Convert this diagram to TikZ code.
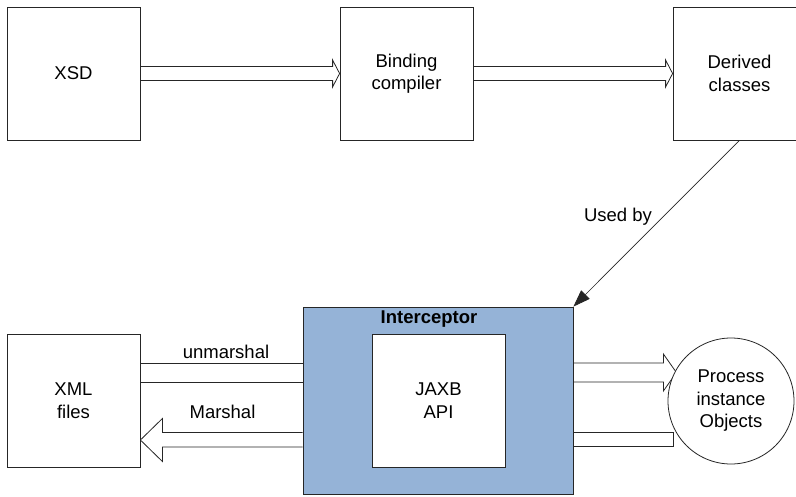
\documentclass[tikz,border=0pt]{standalone}
\usepackage{fontspec}
\setmainfont{Liberation Sans}
\usetikzlibrary{calc,arrows.meta}
\definecolor{intblue}{HTML}{95B3D7}
\definecolor{ln}{HTML}{262626}
\pgfdeclarelayer{bg}
\pgfsetlayers{bg,main}
\begin{document}
\begin{tikzpicture}[x=1pt,y=-1pt,
  font=\fontsize{18.5}{22.5}\selectfont,
  box/.style={draw=ln, line width=0.8pt, fill=white, minimum width=133pt, minimum height=133pt, inner sep=0pt, align=center},
  hollow/.style={draw=ln, line width=0.8pt, line join=miter},
  lbl/.style={inner sep=0pt}
  ]
\useasboundingbox (0,0) rectangle (796,496);
\clip (0,0) rectangle (796,496);
% top row
\node[box] (xsd) at (73.5,73.5) {XSD};
\node[box] (bc) at (406.5,73.5) {Binding\\compiler};
\node[box] (dc) at (739.5,73.5) {Derived\\classes};
% bottom row
\node[box] (xml) at (73.5,400.5) {XML\\files};
\node[draw=ln, line width=0.8pt, fill=intblue, minimum width=270pt, minimum height=187pt, inner sep=0pt] (ic) at (438,400.5) {};
\node[lbl, font=\fontsize{18.5}{22.5}\selectfont\bfseries] (iclabel) at (429,319) {Interceptor};
\node[box] (jaxb) at (438.5,400.5) {JAXB\\API};
\node[draw=ln, line width=0.8pt, circle, fill=white, minimum size=126pt, inner sep=0pt, align=center] (pio) at (731,401) {Process\\instance\\Objects};
% hollow arrows (under the shapes)
\begin{pgfonlayer}{bg}
\draw[hollow] ($(xsd.east)+(0,-7)$) -- ($(bc.west)+(-7,-7)$) -- ($(bc.west)+(-7,-13.5)$) -- (bc.west) -- ($(bc.west)+(-7,13.5)$) -- ($(bc.west)+(-7,7)$) -- ($(xsd.east)+(0,7)$);
\draw[hollow] ($(bc.east)+(0,-7)$) -- ($(dc.west)+(-7,-7)$) -- ($(dc.west)+(-7,-13.5)$) -- (dc.west) -- ($(dc.west)+(-7,13.5)$) -- ($(dc.west)+(-7,7)$) -- ($(bc.east)+(0,7)$);
% unmarshal
\draw[hollow] ($(xml.east)+(0,-37.5)$) -- ($(ic.west)+(0,-37.5)$);
\draw[hollow] ($(xml.east)+(0,-18.5)$) -- ($(ic.west)+(0,-18.5)$);
% Marshal
\draw[hollow] ($(ic.west)+(0,32)$) -- ($(xml.east)+(22,32)$) -- ($(xml.east)+(22,18)$) -- ($(xml.east)+(0,39.5)$) -- ($(xml.east)+(22,61)$) -- ($(xml.east)+(22,46.5)$) -- ($(ic.west)+(0,46.5)$);
% to process objects
\draw[hollow] ($(ic.east)+(0,-37.5)$) -- ($(ic.east)+(90,-37.5)$) -- ($(ic.east)+(90,-46.5)$) -- ($(ic.east)+(103,-28)$) -- ($(ic.east)+(90,-9.5)$) -- ($(ic.east)+(90,-18.5)$) -- ($(ic.east)+(0,-18.5)$);
% from process objects
\draw[hollow] ($(ic.east)+(0,31.5)$) -- ($(ic.east)+(100,31.5)$) -- ($(ic.east)+(100,45.5)$) -- ($(ic.east)+(0,45.5)$);
\end{pgfonlayer}
% labels
\node[lbl] (lun) at (226,352) {unmarshal};
\node[lbl] (lma) at (222.5,411.5) {Marshal};
% used by
\draw[draw=ln, line width=0.7pt, -{Triangle[length=17pt,width=12pt]}] (dc.south) -- (ic.north east);
\node[lbl] (lub) at (618,217) {Used by};
\end{tikzpicture}
\end{document}
